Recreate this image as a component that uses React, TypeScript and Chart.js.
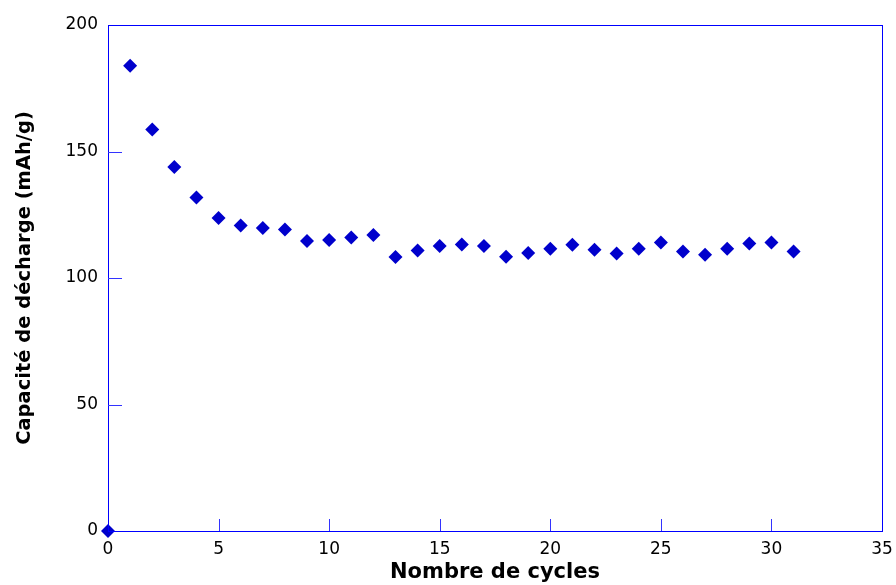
import React, { useEffect, useRef } from "react";
import { Chart, registerables } from "chart.js";

Chart.register(...registerables);

const cycles: number[] = [0, 1, 2, 3, 4, 5, 6, 7, 8, 9, 10, 11, 12, 13, 14, 15, 16, 17, 18, 19, 20, 21, 22, 23, 24, 25, 26, 27, 28, 29, 30, 31];
const capacity: number[] = [0, 183.9, 158.7, 143.9, 131.8, 123.7, 120.8, 119.8, 119.2, 114.6, 115.0, 116.0, 117.0, 108.3, 110.9, 112.6, 113.2, 112.6, 108.4, 109.9, 111.6, 113.1, 111.2, 109.7, 111.6, 114.0, 110.5, 109.2, 111.6, 113.6, 114.0, 110.5];

const xTitle = "Nombre de cycles";
const yTitle = "Capacité de décharge (mAh/g)";
const xMin = 0, xMax = 35, xStep = 5;
const yMin = 0, yMax = 200, yStep = 50;

const FONT = "'DejaVu Sans', sans-serif";

const framePlugin = {
  id: "frame",
  afterDraw(chart: any) {
    const { ctx, chartArea } = chart;
    const { left, right, top, bottom } = chartArea;
    const xs = chart.scales.x;
    const ys = chart.scales.y;
    ctx.save();
    ctx.strokeStyle = "#0000FF";
    ctx.lineWidth = 1;
    ctx.strokeRect(Math.round(left) + 0.5, Math.round(top) + 0.5, Math.round(right - left), Math.round(bottom - top));
    ctx.strokeStyle = "#3333FF";
    ctx.beginPath();
    for (let v = xMin + xStep; v < xMax; v += xStep) {
      const px = Math.round(xs.getPixelForValue(v)) + 0.5;
      ctx.moveTo(px, bottom);
      ctx.lineTo(px, bottom - 12);
    }
    for (let v = yMin + yStep; v < yMax; v += yStep) {
      const py = Math.round(ys.getPixelForValue(v)) + 0.5;
      ctx.moveTo(left, py);
      ctx.lineTo(left + 14, py);
    }
    ctx.stroke();
    ctx.restore();
  },
};

export default function App() {
  const ref = useRef<HTMLCanvasElement>(null);
  useEffect(() => {
    document.body.style.margin = "0";
    const chart = new Chart(ref.current as HTMLCanvasElement, {
      type: "scatter",
      data: {
        datasets: [
          {
            data: cycles.map((c, i) => ({ x: c, y: capacity[i] })),
            pointStyle: "rectRot",
            pointRadius: 7,
            pointHoverRadius: 7,
            pointBorderWidth: 0,
            backgroundColor: "#0000CC",
            borderColor: "#0000CC",
            clip: false,
          } as any,
        ],
      },
      options: {
        responsive: false,
        animation: false,
        layout: { padding: { top: 25, right: 14, left: 0, bottom: 0 } },
        plugins: { legend: { display: false }, tooltip: { enabled: false } },
        scales: {
          x: {
            type: "linear",
            min: xMin,
            max: xMax,
            ticks: { stepSize: xStep, color: "#000", padding: 8, font: { family: FONT, size: 17 } },
            grid: { display: false, drawTicks: false },
            border: { display: false },
            title: { display: true, text: xTitle, color: "#000", padding: { top: 0, bottom: 0 }, font: { family: FONT, size: 21, weight: "bold" } },
            afterFit(scale: any) {
              scale.height = 54;
              scale.paddingLeft = 0;
              scale.paddingRight = 0;
            },
          },
          y: {
            type: "linear",
            min: yMin,
            max: yMax,
            ticks: { stepSize: yStep, color: "#000", padding: 10, font: { family: FONT, size: 17 } },
            grid: { display: false, drawTicks: false },
            border: { display: false },
            title: { display: true, text: yTitle, color: "#000", padding: { top: 13, bottom: 0 }, font: { family: FONT, size: 19.5, weight: "bold" } },
            afterFit(scale: any) {
              scale.width = 108;
              scale.paddingTop = 0;
              scale.paddingBottom = 0;
            },
          },
        },
      } as any,
      plugins: [framePlugin],
    });
    return () => chart.destroy();
  }, []);
  return (
    <div style={{ position: "absolute", left: 0, top: 0, width: 896, height: 585 }}>
      <canvas ref={ref} width={896} height={585} style={{ display: "block" }} />
    </div>
  );
}
